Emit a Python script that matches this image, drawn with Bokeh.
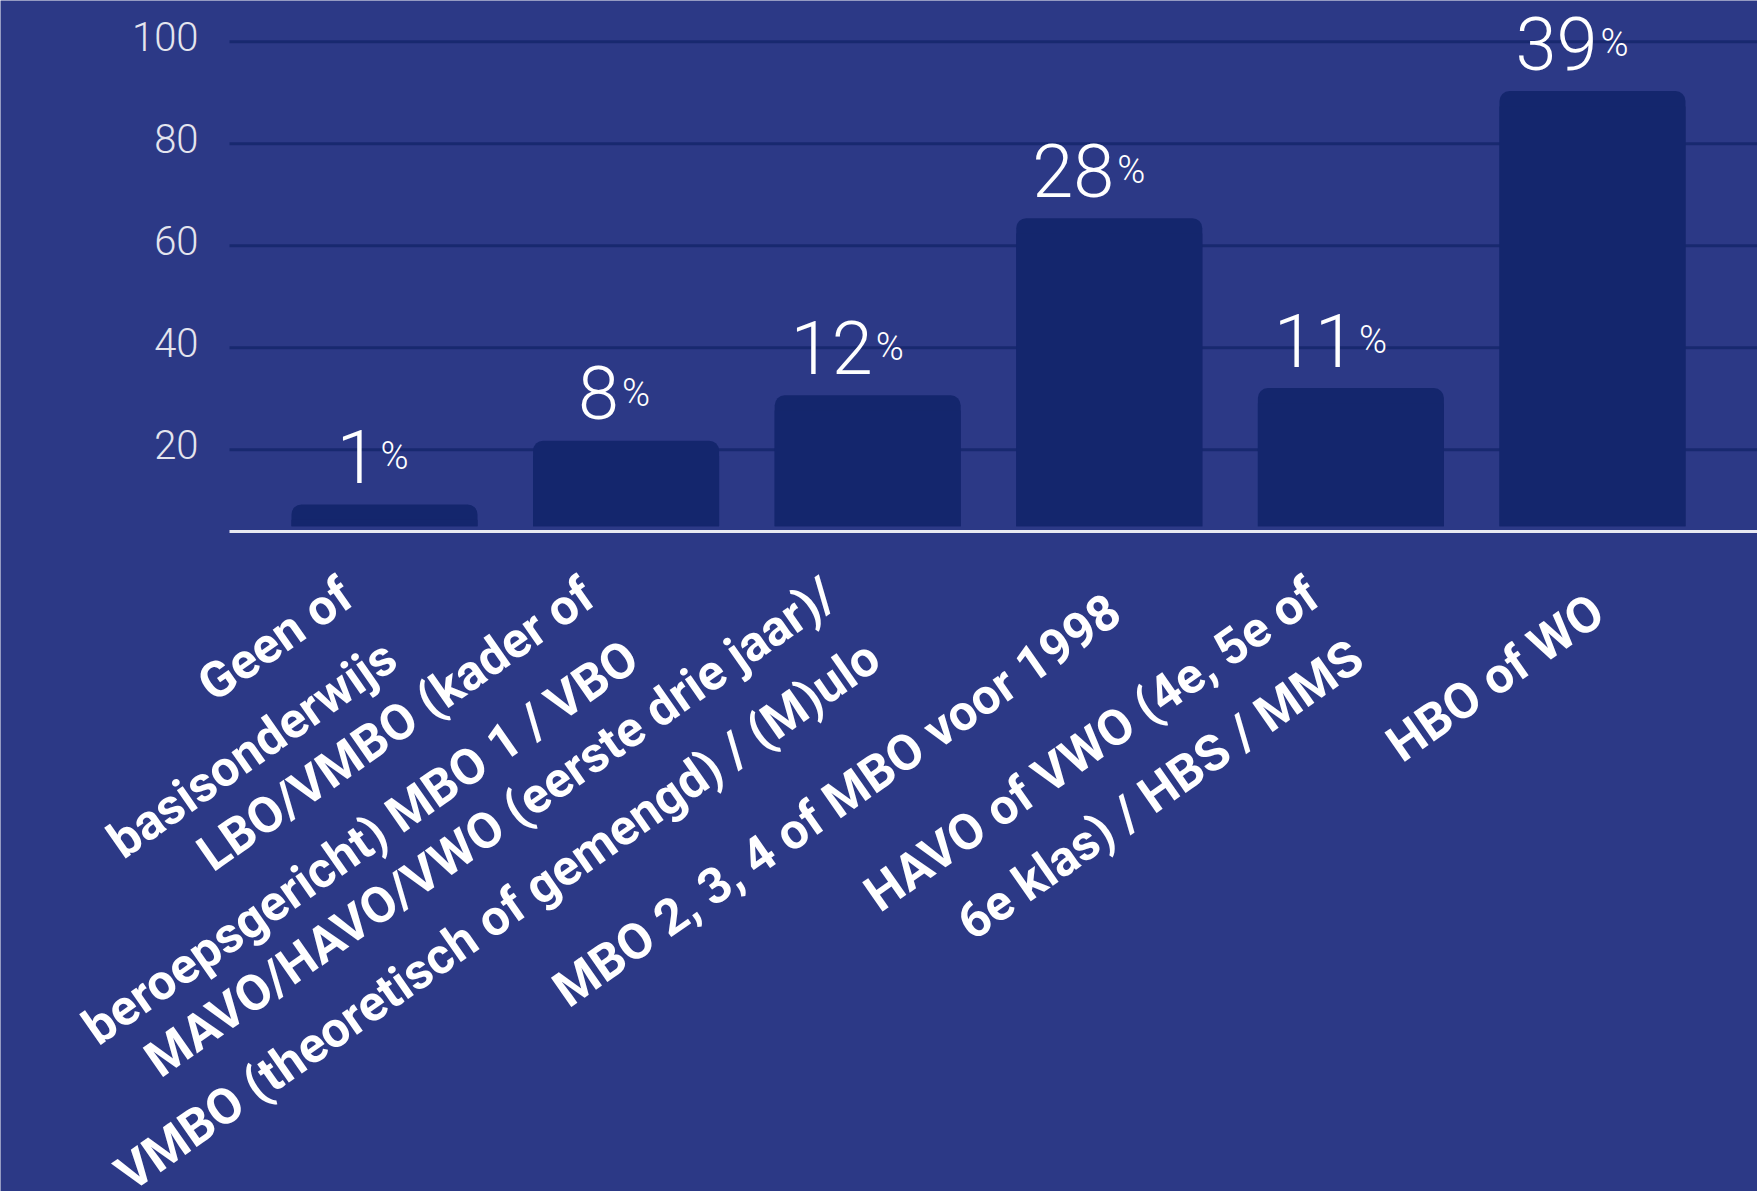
import math
from bokeh.plotting import figure
from bokeh.models import Range1d
from bokeh.core.properties import value
from bokeh.embed import file_html
from bokeh.resources import INLINE

# ---- data ----
categories = [
    "Geen of\nbasisonderwijs",
    "LBO/VMBO (kader of\nberoepsgericht) MBO 1 / VBO",
    "MAVO/HAVO/VWO (eerste drie jaar)/\nVMBO (theoretisch of gemengd) / (M)ulo",
    "MBO 2, 3, 4 of MBO voor 1998",
    "HAVO of VWO (4e, 5e of\n6e klas) / HBS / MMS",
    "HBO of WO",
]
bar_heights = [9.3, 21.8, 30.7, 65.4, 32.1, 90.3]
pct_labels = ["1", "8", "12", "28", "11", "39"]
y_ticks = [20, 40, 60, 80, 100]

# ---- style / layout ----
BG = "#2c3986"
BAR = "#14266d"
GRID = "#18296f"
AXIS = "#e8e9f2"
W, H = 1757, 1191
X0, X1 = -1.5894, 5.683          # full canvas = plot frame
Y0, Y1 = -125.35, 108.06
PLOT_LEFT = -0.6415              # where gridlines / baseline begin
BASE = 4.0                       # white baseline value
BAR_BOTTOM = 5.0
PX_PER_UNIT = 5.1025

xs = list(range(len(categories)))

p = figure(width=W, height=H, output_backend="svg", toolbar_location=None,
           x_range=Range1d(X0, X1), y_range=Range1d(Y0, Y1),
           min_border=0)
p.background_fill_color = BG
p.border_fill_color = BG
p.outline_line_color = None
p.xaxis.visible = False
p.yaxis.visible = False
p.xgrid.visible = False
p.ygrid.visible = False

# gridlines
p.segment(x0=[PLOT_LEFT] * len(y_ticks), x1=[X1] * len(y_ticks),
          y0=y_ticks, y1=y_ticks, line_color=GRID, line_width=3)

# y tick labels
p.text(x=[PLOT_LEFT] * len(y_ticks), y=[t + 1 for t in y_ticks],
       text=[str(t) for t in y_ticks], x_offset=-31,
       text_align="right", text_baseline="middle",
       text_font=value("Roboto Light"), text_font_size="40px",
       text_color="#e4e5ee")

# bars (rounded top, square bottom)
p.vbar(x=xs, top=bar_heights, bottom=BAR_BOTTOM, width=0.77,
       fill_color=BAR, line_color=None, border_radius=(10, 10, 0, 0))
p.vbar(x=xs, top=[h - 3 for h in bar_heights], bottom=BAR_BOTTOM, width=0.77,
       fill_color=BAR, line_color=None)

# baseline
p.segment(x0=[PLOT_LEFT], x1=[X1], y0=[BASE], y1=[BASE],
          line_color=AXIS, line_width=3)

# value labels
num_off = [-19 + 12 * len(t) for t in pct_labels]
val_y = [h + 48 / PX_PER_UNIT for h in bar_heights]
p.text(x=xs, y=val_y, text=pct_labels, x_offset=num_off,
       text_align="right", text_baseline="alphabetic",
       text_font=value("Roboto Light"), text_font_size="74px",
       text_color="#ffffff")
p.text(x=xs, y=val_y, text=["%"] * len(pct_labels),
       x_offset=[o + 3 for o in num_off],
       text_align="left", text_baseline="alphabetic",
       text_font=value("Roboto Light"), text_font_size="38px",
       text_color="#ffffff")

# category labels (rotated)
ang = math.radians(35)
cx, cy = [], []
for t in categories:
    along = -38 if "\n" not in t else -64
    perp = 64
    dx = along * math.cos(ang) + perp * math.sin(ang)
    dy = -along * math.sin(ang) + perp * math.cos(ang)
    cx.append(dx)
    cy.append(BASE - dy / PX_PER_UNIT)
p.text(x=xs, y=cy, text=categories, x_offset=cx, angle=ang,
       text_align="right", text_baseline="middle",
       text_font=value("Roboto"), text_font_style="bold",
       text_font_size="50px", text_line_height=1.32,
       text_color="#ffffff")

open("out.html", "w").write(file_html(p, INLINE))
